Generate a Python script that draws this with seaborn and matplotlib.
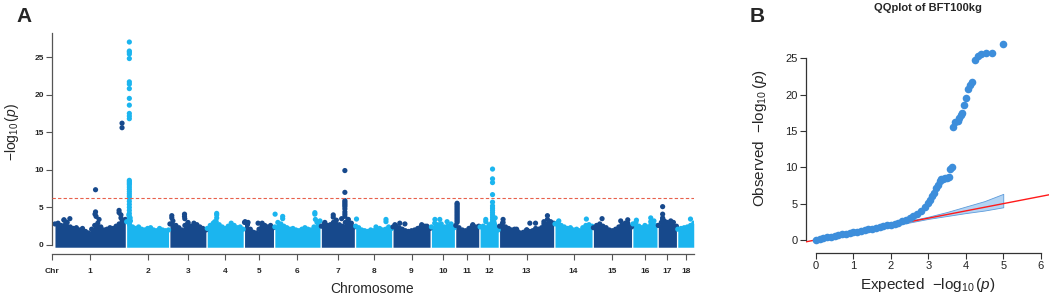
import numpy as np
import pandas as pd
import matplotlib
matplotlib.use("Agg")
import matplotlib.pyplot as plt
import seaborn as sns

# ---- Manhattan plot data ----
# chromosome lengths in Mb (read off the spacing of the x-axis)
chrom_len = [260, 155, 133, 133, 107, 167, 122, 133, 137, 85, 85, 67, 200, 137, 141, 89, 67, 59]
chrom_gap = 5

# upper edge of the dense band of SNPs, read left to right along each chromosome
band_top = [
    [2.8, 2.9, 2.6, 3.3, 3.0, 2.4, 2.2, 2.3, 2.0, 2.2, 1.8, 1.6, 2.1, 2.6, 2.9, 2.4, 2.0, 2.1, 2.3, 2.2, 2.5, 2.8, 3.2, 3.4],
    [3.1, 2.7, 2.4, 2.2, 2.4, 2.1, 2.0, 2.2, 2.3, 2.0, 1.9, 2.2, 2.0, 1.9, 2.0],
    [2.8, 3.2, 2.6, 2.3, 2.0, 2.6, 2.9, 2.5, 2.9, 2.7, 2.4, 2.2, 2.0],
    [2.2, 2.6, 2.9, 3.1, 2.7, 2.4, 2.2, 2.5, 2.9, 2.6, 2.3, 2.4, 2.1],
    [3.0, 2.7, 2.1, 1.7, 1.6, 2.1, 2.5, 2.6, 2.4, 2.6, 2.3],
    [2.4, 3.0, 2.8, 2.5, 2.3, 2.1, 2.2, 2.0, 1.9, 2.1, 2.3, 2.1, 2.0, 2.4, 3.0, 3.2],
    [2.5, 2.8, 2.6, 2.7, 3.0, 3.3, 2.7, 2.5, 3.0, 3.4, 2.9, 2.4],
    [2.5, 2.3, 2.0, 1.9, 1.8, 2.0, 1.9, 2.1, 2.2, 2.0, 2.1, 2.4, 2.2],
    [2.4, 2.5, 2.3, 2.1, 1.9, 1.8, 1.9, 2.0, 2.2, 2.4, 2.3, 2.5, 2.2],
    [2.4, 2.9, 2.7, 2.8, 2.4, 2.5, 2.8, 2.3],
    [2.6, 2.3, 2.0, 1.9, 2.2, 2.5, 2.4, 2.5],
    [2.4, 2.5, 2.3, 2.7, 3.0, 3.6, 2.0],
    [2.5, 2.9, 2.4, 2.2, 2.0, 2.1, 1.8, 1.6, 1.7, 2.0, 1.8, 1.9, 2.2, 2.1, 2.3, 2.5, 2.8, 3.1, 2.9],
    [2.8, 3.0, 2.6, 2.4, 2.2, 2.3, 2.0, 2.1, 1.9, 2.3, 2.6, 2.7, 2.5],
    [2.3, 2.6, 2.8, 2.5, 2.3, 2.0, 1.9, 2.1, 2.4, 2.7, 2.9, 2.6, 2.4],
    [2.8, 3.0, 2.5, 2.3, 2.6, 2.4, 2.7, 3.2, 2.6],
    [2.6, 3.0, 3.2, 3.0, 2.8, 3.0, 2.5],
    [2.1, 2.2, 2.3, 2.4, 2.6, 2.9],
]

# SNPs standing above the band: position (Mb) and -log10(p), per chromosome
peak_pos = [
    [33, 55, 150, 150, 148, 152, 163, 237, 237, 244, 244, 248, 248, 251],
    [10] * 31 + [8, 13, 14],
    [7, 7, 54, 54, 55, 67],
    [35, 35, 35, 28],
    [2, 13, 50, 65],
    [1, 29, 29, 148, 148, 150],
    [13, 44, 44, 75] + [87] * 11 + [98],
    [3, 75, 112, 112],
    [7, 25, 44, 106, 118],
    [13, 31, 58],
    [5] * 14 + [63],
    [21, 21] + [46] * 13,
    [13, 13, 63, 101, 112, 133, 164, 164, 177, 177],
    [14, 116],
    [32, 101, 127, 127],
    [13, 66, 66],
    [16, 16, 16, 16, 46],
    [47],
]
peak_val = [
    [3.35, 3.5, 7.35, 4.4, 4.1, 3.8, 3.4, 4.6, 4.3, 4.0, 3.6, 16.2, 15.6, 3.2],
    [27.0, 25.8, 25.65, 25.4, 24.8, 21.7, 21.4, 20.8, 19.5, 18.6, 17.5, 17.15, 16.8,
     8.6, 8.4, 8.2, 8.0, 7.7, 7.4, 7.1, 6.8, 6.5, 6.2, 5.8, 5.4, 5.0, 4.6, 4.2, 3.8, 3.4, 3.0,
     4.0, 3.6, 3.2],
    [3.9, 3.6, 4.1, 3.8, 3.5, 3.0],
    [4.2, 4.0, 3.6, 3.1],
    [3.1, 3.0, 2.9, 2.9],
    [4.1, 3.8, 3.5, 4.3, 4.1, 3.4],
    [3.0, 4.0, 3.7, 3.5, 9.9, 7.0, 5.9, 5.7, 5.5, 5.3, 5.1, 4.8, 4.4, 4.1, 3.8, 3.3],
    [3.45, 2.4, 3.4, 3.1],
    [2.7, 2.9, 2.8, 2.7, 2.5],
    [3.4, 3.4, 3.1],
    [5.55, 5.4, 5.2, 5.0, 4.8, 4.6, 4.4, 4.2, 4.0, 3.8, 3.6, 3.4, 3.2, 3.0, 2.7],
    [3.4, 3.1, 10.1, 8.8, 8.3, 6.7, 5.7, 5.2, 4.9, 4.6, 4.3, 4.0, 3.7, 3.4, 3.1],
    [3.4, 3.0, 2.1, 2.0, 2.9, 2.9, 3.1, 2.8, 3.9, 3.4],
    [3.2, 3.45],
    [3.5, 3.2, 3.35, 2.9],
    [3.3, 3.6, 3.1],
    [5.1, 4.1, 3.6, 3.4, 3.2],
    [3.45],
]
threshold = 6.3

# ---- QQ plot data ----
qq_expected = [0.0, 0.1, 0.2, 0.3, 0.4, 0.5, 0.6, 0.7, 0.8, 0.9, 1.0, 1.1, 1.2, 1.3, 1.4,
               1.5, 1.6, 1.7, 1.8, 1.9, 2.0, 2.1, 2.2, 2.3, 2.4, 2.5, 2.6, 2.7, 2.8, 2.9,
               3.0, 3.05, 3.1, 3.15, 3.2, 3.25, 3.3, 3.35, 3.4, 3.45, 3.5, 3.55, 3.59, 3.63,
               3.67, 3.72, 3.78, 3.83, 3.88, 3.91, 3.96, 4.0, 4.05, 4.1, 4.16, 4.24, 4.32,
               4.41, 4.53, 4.71, 5.0]
qq_observed = [0.05, 0.15, 0.25, 0.35, 0.45, 0.55, 0.65, 0.75, 0.85, 0.95, 1.05, 1.15, 1.25, 1.35, 1.45,
               1.56, 1.67, 1.78, 1.89, 2.0, 2.12, 2.25, 2.4, 2.58, 2.8, 3.05, 3.3, 3.6, 4.0, 4.55,
               5.1, 5.5, 6.0, 6.5, 7.1, 7.6, 8.1, 8.35, 8.45, 8.5, 8.55, 8.65, 9.8, 10.0,
               15.55, 16.2, 16.45, 16.8, 17.15, 17.5, 18.6, 19.5, 20.8, 21.4, 21.7, 24.8, 25.4,
               25.65, 25.8, 25.75, 27.0]
ci_x = [2.2, 2.5, 3.0, 3.5, 4.0, 4.5, 5.0]
ci_low = [2.1, 2.4, 2.9, 3.3, 3.7, 4.05, 4.5]
ci_high = [2.3, 2.65, 3.2, 3.85, 4.6, 5.35, 6.35]

dark_blue = "#17498C"
light_blue = "#1BB5EF"
qq_blue = "#3D8EDB"

sns.set_theme(style="ticks")
plt.rcParams["font.family"] = ["Liberation Sans", "DejaVu Sans"]
plt.rcParams["mathtext.fontset"] = "custom"
plt.rcParams["mathtext.rm"] = "Liberation Sans"
plt.rcParams["mathtext.it"] = "Liberation Sans:italic"

W, H = 1052, 296
fig = plt.figure(figsize=(W / 100, H / 100), dpi=100)

# ---------------- A: Manhattan ----------------
ax1 = fig.add_axes([52 / W, 42 / H, 642 / W, 221 / H])

starts = np.concatenate([[0], np.cumsum(np.array(chrom_len) + chrom_gap)[:-1]])
centers = starts + np.array(chrom_len) / 2
total = starts[-1] + chrom_len[-1]

rows = []
for i, L in enumerate(chrom_len):
    col = dark_blue if i % 2 == 0 else light_blue
    xs = starts[i] + np.linspace(0, L, len(band_top[i]))
    ax1.fill_between(xs, -0.3, band_top[i], color=col, lw=0, zorder=1)
    grp = "odd" if i % 2 == 0 else "even"
    for x, y in zip(xs, band_top[i]):
        rows.append((x, y, grp))
    for p, v in zip(peak_pos[i], peak_val[i]):
        rows.append((starts[i] + p, v, grp))
snps = pd.DataFrame(rows, columns=["pos", "logp", "grp"])

sns.scatterplot(data=snps, x="pos", y="logp", hue="grp",
                palette={"odd": dark_blue, "even": light_blue},
                s=14, linewidth=0, legend=False, ax=ax1, zorder=2)
ax1.axhline(threshold, color="#E8604C", lw=0.8, ls=(0, (3, 2)), zorder=3)

ax1.set_xlim(-11, total + 1)
ax1.set_ylim(-1.2, 28.2)
sns.despine(ax=ax1)
ax1.spines["left"].set_bounds(0, 28.2)
for s in ["left", "bottom"]:
    ax1.spines[s].set_color("#555555")
    ax1.spines[s].set_linewidth(0.9)
ax1.set_yticks([0, 5, 10, 15, 20, 25])
ax1.set_xticks([-11] + list(centers))
ax1.set_xticklabels(["Chr"] + [str(i + 1) for i in range(len(chrom_len))])
ax1.tick_params(axis="both", length=4, width=0.8, color="#555555", labelsize=6, pad=2)
ax1.tick_params(axis="x", pad=6)
for t in ax1.get_xticklabels() + ax1.get_yticklabels():
    t.set_fontweight("bold")
ax1.set_xlabel("Chromosome", fontsize=10, va="center")
ax1.xaxis.set_label_coords(0.499, -0.158)
ax1.set_ylabel(r"$-\log_{10}(\mathit{p})$", fontsize=10, ha="center", va="center")
ax1.yaxis.set_label_coords(-0.062, 0.55)

# ---------------- B: QQ plot ----------------
ax2 = fig.add_axes([806 / W, 43 / H, 243 / W, 217 / H])
ax2.fill_between(ci_x, ci_low, ci_high, facecolor="#B3D4F3", edgecolor="#5C9BDB",
                 lw=0.6, zorder=1)
ax2.axline((0, 0), (1, 1), color="#FF1A1A", lw=1.0, zorder=2)
sns.scatterplot(x=qq_expected, y=qq_observed, color=qq_blue, s=30, linewidth=0,
                ax=ax2, zorder=3)
ax2.set_xlim(-0.26, 6.22)
ax2.set_ylim(-1.8, 28.1)
sns.despine(ax=ax2)
ax2.spines["left"].set_bounds(0, 25)
ax2.spines["bottom"].set_bounds(0, 6)
for s in ["left", "bottom"]:
    ax2.spines[s].set_color("#333333")
    ax2.spines[s].set_linewidth(0.9)
ax2.set_xticks(range(0, 7))
ax2.set_yticks([0, 5, 10, 15, 20, 25])
ax2.tick_params(axis="both", length=4, width=0.8, color="#333333", labelsize=8,
                labelcolor="#222222", pad=2)
ax2.set_xlabel(r"Expected  $-\log_{10}(\mathit{p})$", fontsize=11, va="center")
ax2.xaxis.set_label_coords(0.502, -0.147)
ax2.set_ylabel(r"Observed  $-\log_{10}(\mathit{p})$", fontsize=11, ha="center", va="center")
ax2.yaxis.set_label_coords(-0.19, 0.528)

fig.text(928 / W, 1 - 8 / H, "QQplot of BFT100kg", fontsize=8, fontweight="bold",
         ha="center", va="center")
fig.text(16 / W, 1 - 17 / H, "A", fontsize=15, fontweight="bold", ha="left", va="center")
fig.text(750 / W, 1 - 17 / H, "B", fontsize=15, fontweight="bold", ha="left", va="center")

fig.savefig("out.png", dpi=100)
